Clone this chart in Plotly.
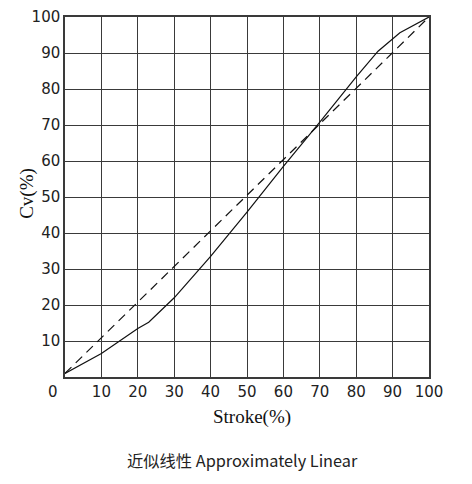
import plotly.graph_objects as go

# stroke (%) vs Cv (%) readings
stroke = [0, 10, 20, 23, 30, 40, 50, 60, 70, 80, 86, 92, 100]
cv_curve = [1, 6.5, 13.5, 15.2, 22, 33.5, 45.8, 58.5, 70.8, 83.4, 90.5, 95.6, 100]

# ideal linear reference (dashed)
stroke_linear = [0, 100]
cv_linear = [1, 100]

x_ticks = [10, 20, 30, 40, 50, 60, 70, 80, 90, 100]
y_ticks = [10, 20, 30, 40, 50, 60, 70, 80, 90, 100]

tick_font = dict(family="DejaVu Sans", size=15, color="#222222")
title_font = dict(family="Liberation Serif", size=19, color="#111111")

fig = go.Figure()
fig.add_trace(
    go.Scatter(
        x=stroke_linear,
        y=cv_linear,
        mode="lines",
        line=dict(color="#111111", width=1.2, dash="9px,6px"),
        hoverinfo="skip",
    )
)
fig.add_trace(
    go.Scatter(
        x=stroke,
        y=cv_curve,
        mode="lines",
        line=dict(color="#111111", width=1.2),
    )
)

axis_style = dict(
    range=[0, 100],
    ticks="",
    tickfont=tick_font,
    ticklabeloverflow="allow",
    showgrid=True,
    gridcolor="#3a3a3a",
    gridwidth=1.3,
    showline=True,
    mirror=True,
    linecolor="#3a3a3a",
    linewidth=1.5,
    zeroline=False,
    fixedrange=True,
    automargin=False,
)

# margins offset by the 8px page margin of the html body
fig.update_layout(
    width=472,
    height=484,
    margin=dict(l=57, r=51, t=9, b=115),
    showlegend=False,
    plot_bgcolor="white",
    paper_bgcolor="white",
    xaxis=dict(axis_style, tickvals=x_ticks),
    yaxis=dict(axis_style, tickvals=y_ticks),
)

# shared origin label
fig.add_annotation(
    text="0", x=-0.034, y=-0.041, xref="paper", yref="paper",
    showarrow=False, font=tick_font, xanchor="center", yanchor="middle",
)
# axis titles
fig.add_annotation(
    text="Stroke(%)", x=0.514, y=-0.110, xref="paper", yref="paper",
    showarrow=False, font=title_font, xanchor="center", yanchor="middle",
)
fig.add_annotation(
    text="Cv(%)", x=-0.105, y=0.511, xref="paper", yref="paper",
    showarrow=False, font=title_font, textangle=-90,
    xanchor="center", yanchor="middle",
)
# caption
fig.add_annotation(
    text="近似线性 Approximately Linear", x=0.489, y=-0.231,
    xref="paper", yref="paper", showarrow=False,
    font=dict(family="Noto Sans CJK SC", size=16.3, color="#222222"),
    xanchor="center", yanchor="middle",
)

fig.write_html("out.html")
